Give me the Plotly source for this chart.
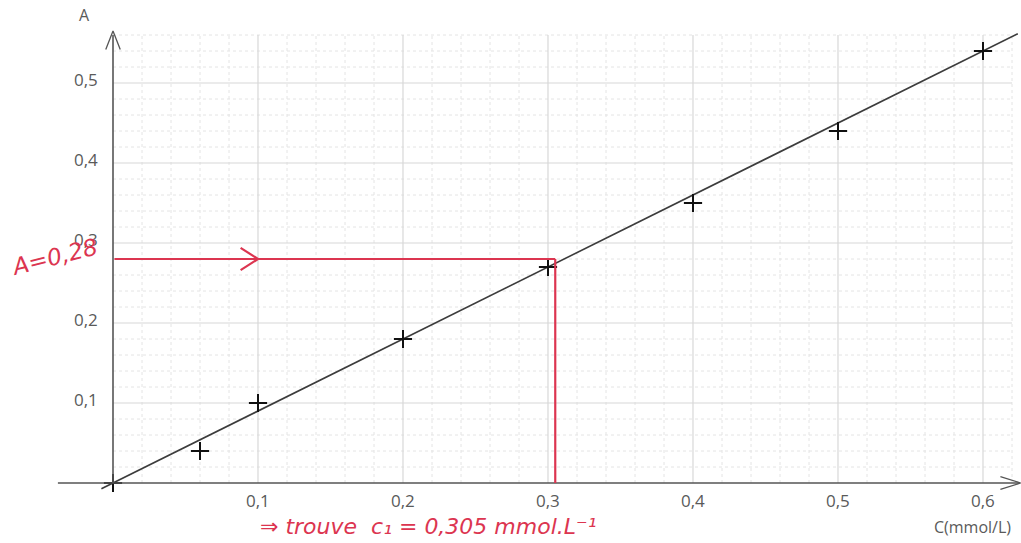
import plotly.graph_objects as go
import numpy as np

# Calibration measurements: concentration (mmol/L) vs absorbance
conc = [0.0, 0.06, 0.10, 0.20, 0.30, 0.40, 0.50, 0.60]
absorb = [0.0, 0.04, 0.10, 0.18, 0.27, 0.35, 0.44, 0.54]

# Fitted line through the origin
slope = 0.9
fit_c = [-0.008, 0.624]

# Reading of the unknown sample
a_read = 0.28
c_read = 0.305

x_ticks = [0.1, 0.2, 0.3, 0.4, 0.5, 0.6]
x_tick_text = ["0,1", "0,2", "0,3", "0,4", "0,5", "0,6"]
y_ticks = [0.1, 0.2, 0.3, 0.4, 0.5]
y_tick_text = ["0,1", "0,2", "0,3", "0,4", "0,5"]

grid_xmax = 0.62
grid_ymax = 0.56

W, H = 1021, 543
xr = [-113 / 1450, (W - 113) / 1450]
yr = [-60 / 800, 483 / 800]

AXIS = "#555555"
RED = "#dc3550"
TXT = "#5a5a5a"

fig = go.Figure()
shapes = []

# minor dotted grid every 0.02
for v in np.arange(0.02, grid_xmax + 1e-9, 0.02):
    if abs(round(v * 10) - v * 10) > 1e-6:
        shapes.append(dict(type="line", x0=v, x1=v, y0=0, y1=grid_ymax, xref="x", yref="y",
                           line=dict(color="#e4e4e4", width=1, dash="dot"), layer="below"))
for v in np.arange(0.02, grid_ymax + 1e-9, 0.02):
    if abs(round(v * 10) - v * 10) > 1e-6:
        shapes.append(dict(type="line", x0=0, x1=grid_xmax, y0=v, y1=v, xref="x", yref="y",
                           line=dict(color="#e4e4e4", width=1, dash="dot"), layer="below"))
# major grid every 0.1
for v in x_ticks:
    shapes.append(dict(type="line", x0=v, x1=v, y0=0, y1=grid_ymax, xref="x", yref="y",
                       line=dict(color="#d8d8d8", width=1.2), layer="below"))
for v in y_ticks:
    shapes.append(dict(type="line", x0=0, x1=grid_xmax, y0=v, y1=v, xref="x", yref="y",
                       line=dict(color="#d8d8d8", width=1.2), layer="below"))

# axes
shapes.append(dict(type="line", x0=-0.038, x1=0.625, y0=0, y1=0, xref="x", yref="y",
                   line=dict(color=AXIS, width=1.6)))
shapes.append(dict(type="line", x0=0, x1=0, y0=0, y1=0.56, xref="x", yref="y",
                   line=dict(color=AXIS, width=1.6)))

# red construction lines
shapes.append(dict(type="line", x0=0.001, x1=c_read, y0=a_read, y1=a_read, xref="x", yref="y",
                   line=dict(color=RED, width=2.2)))
shapes.append(dict(type="line", x0=c_read, x1=c_read, y0=0, y1=a_read, xref="x", yref="y",
                   line=dict(color=RED, width=2.2)))

# fitted line
fig.add_trace(go.Scatter(x=fit_c, y=[slope * c for c in fit_c], mode="lines",
                         line=dict(color="#3c3c3c", width=1.6), hoverinfo="skip"))

# measured points
fig.add_trace(go.Scatter(x=conc, y=absorb, mode="markers",
                         marker=dict(symbol="cross-thin", size=13,
                                     line=dict(color="#111111", width=2)),
                         hoverinfo="skip"))

# axis arrowheads
fig.add_trace(go.Scatter(x=[-0.005, 0, 0.005], y=[0.542, 0.565, 0.542], mode="lines",
                         line=dict(color=AXIS, width=1.3), hoverinfo="skip"))
fig.add_trace(go.Scatter(x=[0.612, 0.626, 0.612], y=[0.008, 0, -0.008], mode="lines",
                         line=dict(color=AXIS, width=1.3), hoverinfo="skip"))

# arrowhead on the red horizontal reading line
fig.add_trace(go.Scatter(x=[0.088, 0.1, 0.088], y=[a_read + 0.014, a_read, a_read - 0.014],
                         mode="lines", line=dict(color=RED, width=2.2), hoverinfo="skip"))

annotations = []
for v, t in zip(x_ticks, x_tick_text):
    annotations.append(dict(x=v, y=-0.022, xref="x", yref="y", text=t, showarrow=False,
                            font=dict(family="Open Sans", size=17, color=TXT),
                            xanchor="center", yanchor="middle"))
for v, t in zip(y_ticks, y_tick_text):
    annotations.append(dict(x=-0.009, y=v + 0.004, xref="x", yref="y", text=t, showarrow=False,
                            font=dict(family="Open Sans", size=17, color=TXT),
                            xanchor="right", yanchor="middle"))
annotations.append(dict(x=-0.02, y=0.585, xref="x", yref="y", text="A", showarrow=False,
                        font=dict(family="Open Sans", size=16, color=TXT),
                        xanchor="center", yanchor="middle"))
annotations.append(dict(x=0.593, y=-0.055, xref="x", yref="y", text="C(mmol/L)", showarrow=False,
                        font=dict(family="Open Sans", size=16, color=TXT),
                        xanchor="center", yanchor="middle"))
annotations.append(dict(x=-0.074, y=0.283, xref="x", yref="y", text="<i>A=0,28</i>",
                        showarrow=False, textangle=-14,
                        font=dict(family="DejaVu Sans", size=23, color=RED),
                        xanchor="left", yanchor="middle"))
annotations.append(dict(x=0.1, y=-0.036, xref="x", yref="y",
                        text="<i>\u21d2 trouve  c\u2081 = 0,305 mmol.L\u207b\u00b9</i>",
                        showarrow=False,
                        font=dict(family="DejaVu Sans", size=22, color=RED),
                        xanchor="left", yanchor="top"))

fig.update_layout(
    width=W, height=H,
    margin=dict(l=0, r=0, t=0, b=0),
    paper_bgcolor="white", plot_bgcolor="white",
    showlegend=False,
    shapes=shapes, annotations=annotations,
    xaxis=dict(range=xr, visible=False, fixedrange=True),
    yaxis=dict(range=yr, visible=False, fixedrange=True),
)

fig.write_html("out.html")
